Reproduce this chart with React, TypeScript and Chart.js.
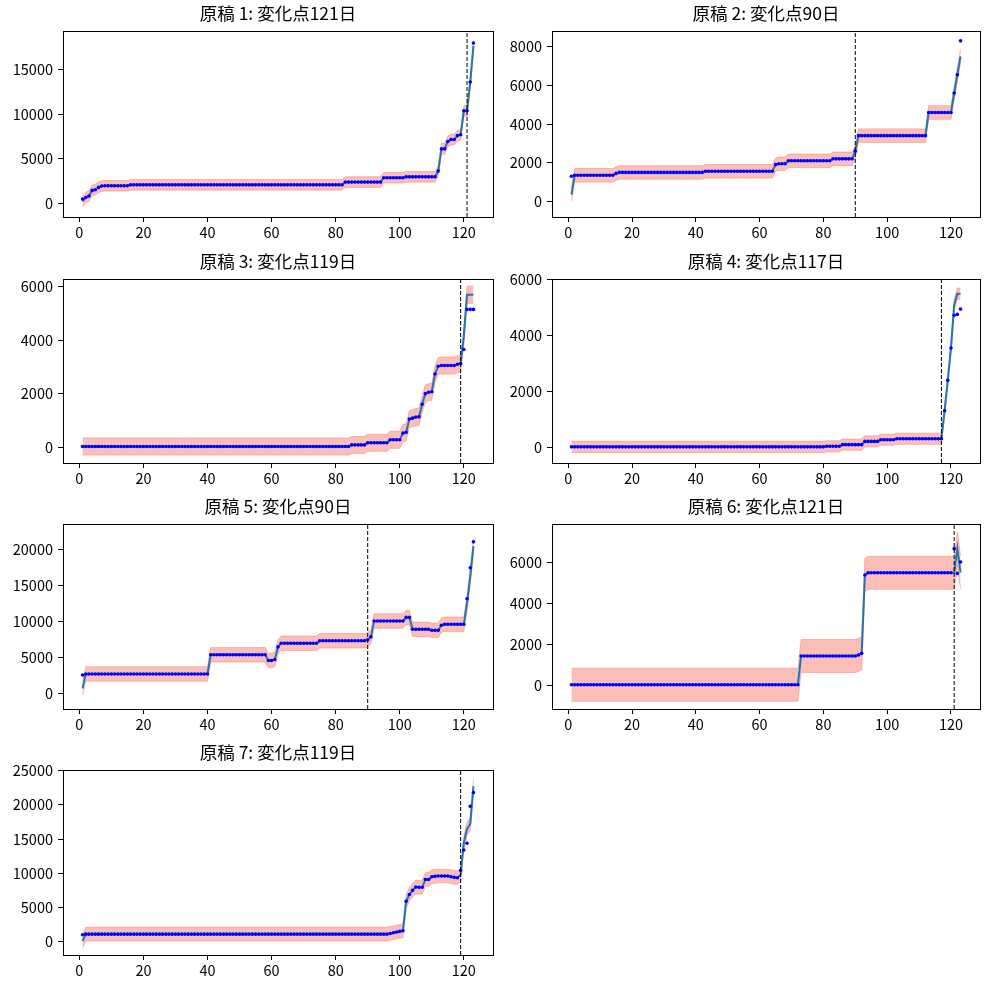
import { useEffect, useRef } from 'react'
import { Chart, registerables } from 'chart.js'

Chart.register(...registerables)

// day index 1..123
const days = Array.from({ length: 123 }, (_, i) => i + 1)
const xTicks = [0, 20, 40, 60, 80, 100, 120]

const titles = [
  '原稿 1: 変化点121日',
  '原稿 2: 変化点90日',
  '原稿 3: 変化点119日',
  '原稿 4: 変化点117日',
  '原稿 5: 変化点90日',
  '原稿 6: 変化点121日',
  '原稿 7: 変化点119日',
]
const changePoints = [121, 90, 119, 117, 90, 121, 119]
const bandHalf = [600, 350, 320, 200, 1000, 800, 1000]

const yTicks1 = [0, 5000, 10000, 15000]
const yTicks2 = [0, 2000, 4000, 6000, 8000]
const yTicks3 = [0, 2000, 4000, 6000]
const yTicks4 = [0, 2000, 4000, 6000]
const yTicks5 = [0, 5000, 10000, 15000, 20000]
const yTicks6 = [0, 2000, 4000, 6000]
const yTicks7 = [0, 5000, 10000, 15000, 20000, 25000]

// observed values (blue dots), days 1..123
const obs1 = [
  450, 630, 790, 1420, 1500, 1760, 1910, 1950, 1950, 1950,
  1950, 1950, 1950, 1950, 1950, 2050, 2050, 2050, 2050, 2050,
  2050, 2050, 2050, 2050, 2050, 2050, 2050, 2050, 2050, 2050,
  2050, 2050, 2050, 2050, 2050, 2050, 2050, 2050, 2050, 2050,
  2050, 2050, 2050, 2050, 2050, 2050, 2050, 2050, 2050, 2050,
  2050, 2050, 2050, 2050, 2050, 2050, 2050, 2050, 2050, 2050,
  2050, 2050, 2050, 2050, 2050, 2050, 2050, 2050, 2050, 2050,
  2050, 2050, 2050, 2050, 2050, 2050, 2050, 2050, 2050, 2050,
  2050, 2050, 2360, 2360, 2360, 2360, 2360, 2360, 2360, 2360,
  2360, 2360, 2360, 2360, 2850, 2850, 2850, 2850, 2850, 2850,
  2850, 2950, 2950, 2950, 2950, 2950, 2950, 2950, 2950, 2950,
  2950, 3600, 6100, 6100, 6940, 7150, 7150, 7600, 7700, 10390,
  10390, 13630, 18020,
]
const obs2 = [
  1300, 1350, 1350, 1350, 1350, 1350, 1350, 1350, 1350, 1350,
  1350, 1350, 1350, 1350, 1450, 1500, 1500, 1500, 1500, 1500,
  1500, 1500, 1500, 1500, 1500, 1500, 1500, 1500, 1500, 1500,
  1500, 1500, 1500, 1500, 1500, 1500, 1500, 1500, 1500, 1500,
  1500, 1500, 1560, 1560, 1560, 1560, 1560, 1560, 1560, 1560,
  1560, 1560, 1560, 1560, 1560, 1560, 1560, 1560, 1560, 1560,
  1560, 1560, 1560, 1560, 1900, 1950, 1950, 1950, 2100, 2100,
  2100, 2100, 2100, 2100, 2100, 2100, 2100, 2100, 2100, 2100,
  2100, 2100, 2200, 2200, 2200, 2200, 2200, 2200, 2200, 2600,
  3400, 3400, 3400, 3400, 3400, 3400, 3400, 3400, 3400, 3400,
  3400, 3400, 3400, 3400, 3400, 3400, 3400, 3400, 3400, 3400,
  3400, 3400, 4600, 4600, 4600, 4600, 4600, 4600, 4600, 4600,
  5600, 6550, 8300,
]
const obs3 = [
  20, 20, 20, 20, 20, 20, 20, 20, 20, 20,
  20, 20, 20, 20, 20, 20, 20, 20, 20, 20,
  20, 20, 20, 20, 20, 20, 20, 20, 20, 20,
  20, 20, 20, 20, 20, 20, 20, 20, 20, 20,
  20, 20, 20, 20, 20, 20, 20, 20, 20, 20,
  20, 20, 20, 20, 20, 20, 20, 20, 20, 20,
  20, 20, 20, 20, 20, 20, 20, 20, 20, 20,
  20, 20, 20, 20, 20, 20, 20, 20, 20, 20,
  20, 20, 20, 20, 80, 80, 80, 80, 80, 160,
  160, 160, 160, 160, 160, 160, 270, 270, 270, 270,
  520, 550, 1050, 1080, 1120, 1130, 1600, 2000, 2050, 2070,
  2730, 3020, 3050, 3050, 3050, 3050, 3050, 3100, 3120, 3650,
  5150, 5150, 5150,
]
const obs4 = [
  30, 30, 30, 30, 30, 30, 30, 30, 30, 30,
  30, 30, 30, 30, 30, 30, 30, 30, 30, 30,
  30, 30, 30, 30, 30, 30, 30, 30, 30, 30,
  30, 30, 30, 30, 30, 30, 30, 30, 30, 30,
  30, 30, 30, 30, 30, 30, 30, 30, 30, 30,
  30, 30, 30, 30, 30, 30, 30, 30, 30, 30,
  30, 30, 30, 30, 30, 30, 30, 30, 30, 30,
  30, 30, 30, 30, 30, 30, 30, 30, 30, 30,
  50, 50, 50, 50, 50, 110, 110, 110, 110, 110,
  110, 110, 226, 226, 226, 226, 226, 285, 285, 285,
  285, 285, 320, 320, 320, 320, 320, 320, 320, 320,
  320, 320, 320, 320, 320, 320, 320, 1320, 2410, 3560,
  4730, 4760, 4950,
]
const obs5 = [
  2600, 2740, 2740, 2740, 2740, 2740, 2740, 2740, 2740, 2740,
  2740, 2740, 2740, 2740, 2740, 2740, 2740, 2740, 2740, 2740,
  2740, 2740, 2740, 2740, 2740, 2740, 2740, 2740, 2740, 2740,
  2740, 2740, 2740, 2740, 2740, 2740, 2740, 2740, 2740, 2740,
  5400, 5400, 5400, 5400, 5400, 5400, 5400, 5400, 5400, 5400,
  5400, 5400, 5400, 5400, 5400, 5400, 5400, 5400, 4600, 4600,
  4750, 6500, 7000, 7000, 7000, 7000, 7000, 7000, 7000, 7000,
  7000, 7000, 7000, 7000, 7350, 7350, 7350, 7350, 7350, 7350,
  7350, 7350, 7350, 7350, 7350, 7350, 7350, 7350, 7350, 7500,
  7900, 10100, 10100, 10100, 10100, 10100, 10100, 10100, 10100, 10100,
  10100, 10600, 10600, 8950, 8950, 8950, 8950, 8950, 8950, 8800,
  8800, 8800, 9500, 9650, 9650, 9650, 9650, 9650, 9650, 9650,
  13200, 17500, 21100,
]
const obs6 = [
  60, 60, 60, 60, 60, 60, 60, 60, 60, 60,
  60, 60, 60, 60, 60, 60, 60, 60, 60, 60,
  60, 60, 60, 60, 60, 60, 60, 60, 60, 60,
  60, 60, 60, 60, 60, 60, 60, 60, 60, 60,
  60, 60, 60, 60, 60, 60, 60, 60, 60, 60,
  60, 60, 60, 60, 60, 60, 60, 60, 60, 60,
  60, 60, 60, 60, 60, 60, 60, 60, 60, 60,
  60, 60, 1450, 1450, 1450, 1450, 1450, 1450, 1450, 1450,
  1450, 1450, 1450, 1450, 1450, 1450, 1450, 1450, 1450, 1450,
  1500, 1580, 5370, 5480, 5480, 5480, 5480, 5480, 5480, 5480,
  5480, 5480, 5480, 5480, 5480, 5480, 5480, 5480, 5480, 5480,
  5480, 5480, 5480, 5480, 5480, 5480, 5480, 5480, 5480, 5480,
  6650, 5450, 6000,
]
const obs7 = [
  1000, 1100, 1100, 1100, 1100, 1100, 1100, 1100, 1100, 1100,
  1100, 1100, 1100, 1100, 1100, 1100, 1100, 1100, 1100, 1100,
  1100, 1100, 1100, 1100, 1100, 1100, 1100, 1100, 1100, 1100,
  1100, 1100, 1100, 1100, 1100, 1100, 1100, 1100, 1100, 1100,
  1100, 1100, 1100, 1100, 1100, 1100, 1100, 1100, 1100, 1100,
  1100, 1100, 1100, 1100, 1100, 1100, 1100, 1100, 1100, 1100,
  1100, 1100, 1100, 1100, 1100, 1100, 1100, 1100, 1100, 1100,
  1100, 1100, 1100, 1100, 1100, 1100, 1100, 1100, 1100, 1100,
  1100, 1100, 1100, 1100, 1100, 1100, 1100, 1100, 1100, 1100,
  1100, 1100, 1100, 1100, 1100, 1100, 1200, 1300, 1400, 1500,
  1600, 5900, 6900, 7500, 8000, 7950, 7950, 9100, 9100, 9500,
  9550, 9600, 9600, 9600, 9600, 9500, 9400, 9350, 10400, 13400,
  14400, 19800, 21800,
]

// estimated level line: same as observed except on these days
const lineFix1: Record<number, number> = { 1: 180, 123: 17700 }
const lineFix2: Record<number, number> = { 1: 350, 123: 7500 }
const lineFix3: Record<number, number> = { 120: 4150, 121: 5700, 122: 5700, 123: 5700 }
const lineFix4: Record<number, number> = { 121: 5100, 122: 5500, 123: 5500 }
const lineFix5: Record<number, number> = { 1: 740, 121: 12600, 122: 16300, 123: 20500 }
const lineFix6: Record<number, number> = { 121: 5480, 122: 6650, 123: 5500 }
const lineFix7: Record<number, number> = { 1: 100, 119: 9800, 120: 14500, 121: 16500, 122: 17200, 123: 22700 }

const obsAll = [obs1, obs2, obs3, obs4, obs5, obs6, obs7]
const fixAll = [lineFix1, lineFix2, lineFix3, lineFix4, lineFix5, lineFix6, lineFix7]
const ticksAll = [yTicks1, yTicks2, yTicks3, yTicks4, yTicks5, yTicks6, yTicks7]

// layout: axes box in page pixels + y range
const AX_LEFT = [63, 552]
const AX_W = [430, 428]
const ROW_TOP = [31, 279, 524, 770]
const ROW_H = [186, 184, 185, 185]
const Y_RANGE = [
  [-1575, 19385],
  [-805, 8810],
  [-598, 6288],
  [-546, 6025],
  [-2130, 23580],
  [-1115, 7843],
  [-1950, 25100],
]

const FONT = "'Noto Sans CJK JP', 'Noto Sans', sans-serif"
const Y_AXIS_W = 63
const TITLE_H = 31
const X_AXIS_H = 30
const PAD_R = 10

const framePlugin = {
  id: 'frame',
  afterDraw(chart: any) {
    const { ctx, chartArea: a } = chart
    ctx.save()
    ctx.strokeStyle = '#000'
    ctx.lineWidth = 1
    ctx.strokeRect(Math.round(a.left) + 0.5, Math.round(a.top) + 0.5, Math.round(a.right - a.left), Math.round(a.bottom - a.top))
    ctx.restore()
  },
}

function Panel({ idx }: { idx: number }) {
  const canvasRef = useRef<HTMLCanvasElement | null>(null)
  const col = idx % 2
  const row = Math.floor(idx / 2)
  const w = Y_AXIS_W + AX_W[col] + PAD_R
  const h = TITLE_H + ROW_H[row] + X_AXIS_H
  const left = AX_LEFT[col] - Y_AXIS_W
  const top = ROW_TOP[row] - TITLE_H

  useEffect(() => {
    if (!canvasRef.current) return
    const obs = obsAll[idx]
    const fix = fixAll[idx]
    const half = bandHalf[idx]
    const [ymin, ymax] = Y_RANGE[idx]
    const cp = changePoints[idx]
    const level = days.map((d, i) => (fix[d] !== undefined ? fix[d] : obs[i]))
    const band = 'rgba(250,128,114,0.5)'

    const chart = new Chart(canvasRef.current, {
      type: 'line',
      data: {
        datasets: [
          {
            data: days.map((d, i) => ({ x: d, y: obs[i] })),
            showLine: false,
            pointRadius: 1.8,
            pointBorderWidth: 0,
            pointBackgroundColor: '#0000ff',
            order: 0,
          },
          {
            data: days.map((d, i) => ({ x: d, y: level[i] })),
            borderColor: '#1f77b4',
            borderWidth: 2,
            pointRadius: 0,
            order: 1,
          },
          {
            data: days.map((d, i) => ({ x: d, y: level[i] - half })),
            borderColor: band,
            borderWidth: 1,
            pointRadius: 0,
            fill: false,
            order: 3,
          },
          {
            data: days.map((d, i) => ({ x: d, y: level[i] + half })),
            borderColor: band,
            backgroundColor: band,
            borderWidth: 1,
            pointRadius: 0,
            fill: '-1',
            order: 2,
          },
          {
            data: [{ x: cp, y: ymin }, { x: cp, y: ymax }],
            borderColor: '#000',
            borderWidth: 1,
            borderDash: [4, 2],
            pointRadius: 0,
            order: -1,
          },
        ],
      },
      options: {
        responsive: false,
        animation: false,
        layout: { padding: { left: 0, right: PAD_R, top: 0, bottom: 0 } },
        plugins: {
          legend: { display: false },
          tooltip: { enabled: false },
          title: {
            display: true,
            text: titles[idx],
            color: '#000',
            fullSize: false,
            font: { family: FONT, size: 17.5, weight: 'normal', lineHeight: 1.1 },
            padding: { top: 4, bottom: 7.75 },
          },
        },
        scales: {
          x: {
            type: 'linear',
            min: -5.1,
            max: 129.1,
            afterBuildTicks: (s: any) => {
              s.ticks = xTicks.map((v) => ({ value: v }))
            },
            afterFit: (s: any) => {
              s.height = X_AXIS_H
            },
            grid: { drawOnChartArea: false, drawTicks: true, tickLength: 5, color: '#000' },
            border: { color: '#000' },
            ticks: { color: '#000', autoSkip: false, maxRotation: 0, padding: 2, font: { family: FONT, size: 14.5 }, callback: (v: any) => String(v) },
          },
          y: {
            type: 'linear',
            min: ymin,
            max: ymax,
            afterBuildTicks: (s: any) => {
              s.ticks = ticksAll[idx].map((v) => ({ value: v }))
            },
            afterFit: (s: any) => {
              s.width = Y_AXIS_W
            },
            grid: { drawOnChartArea: false, drawTicks: true, tickLength: 5, color: '#000' },
            border: { color: '#000' },
            ticks: { color: '#000', autoSkip: false, padding: 5, font: { family: FONT, size: 14.5 }, callback: (v: any) => String(v) },
          },
        },
      },
      plugins: [framePlugin],
    } as any)

    return () => chart.destroy()
  }, [idx])

  return (
    <canvas
      ref={canvasRef}
      width={w}
      height={h}
      style={{ position: 'absolute', left, top, width: w, height: h }}
    />
  )
}

export default function App() {
  return (
    <div style={{ position: 'absolute', left: 0, top: 0, width: 989, height: 989, background: '#fff' }}>
      {titles.map((_, i) => (
        <Panel key={i} idx={i} />
      ))}
    </div>
  )
}
